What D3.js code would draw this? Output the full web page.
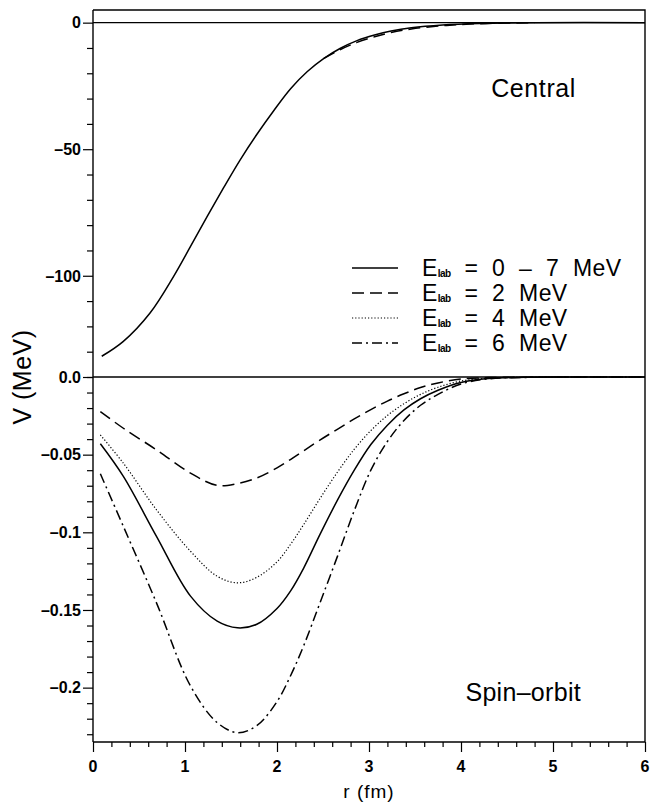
<!doctype html>
<html>
<head>
  <meta charset="utf-8">
  <title>Central and spin-orbit potentials</title>
  <script src="https://cdnjs.cloudflare.com/ajax/libs/d3/7.8.5/d3.min.js"></script>
  <style>
    body { margin: 0; background: #fff; }
    svg { font-family: 'Liberation Sans', Arial, sans-serif; }
    .tick-label { font-weight: bold; font-size: 16px; fill: #000; }
    .title { font-size: 25px; fill: #000; }
  </style>
</head>
<body>
<div id="chart"></div>
<script>
  // ---- data ----
  var rCentral = [0.095, 0.33, 0.62, 0.875, 1.06, 1.24, 1.42, 1.6, 1.78, 1.97, 2.15, 2.33, 2.51, 2.69, 2.87, 3.06, 3.24, 3.46, 3.8, 4.2, 4.8, 6.0];
  var vCentral = [-131.8, -125.9, -114.7, -100.3, -88.4, -76.6, -65.2, -54.2, -44.2, -34.5, -26.0, -19.3, -14.1, -10.1, -7.1, -4.9, -3.3, -2.0, -0.9, -0.3, 0, 0];
  // slight deviation of the 2 MeV central curve in the tail
  var rCentralDashed = [2.51, 2.69, 2.87, 3.06, 3.24, 3.46, 3.8, 4.2, 4.8];
  var vCentralDashed = [-14.1, -10.6, -7.8, -5.6, -3.9, -2.5, -1.2, -0.4, 0];

  var rSO = [0.08, 0.33, 0.69, 1.06, 1.35, 1.57, 1.78, 2.0, 2.15, 2.29, 2.47, 2.66, 2.84, 3.02, 3.2, 3.38, 3.56, 3.75, 4.0, 4.3, 4.7, 5.2, 6.0];
  var vSO_all = [-0.043, -0.064, -0.1026, -0.1411, -0.1572, -0.1615, -0.1592, -0.1490, -0.1375, -0.1230, -0.1010, -0.0790, -0.0600, -0.0435, -0.0310, -0.0212, -0.0140, -0.0085, -0.0035, -0.0010, -0.0002, 0, 0];
  var vSO_2 = [-0.0223, -0.033, -0.0469, -0.0619, -0.0698, -0.0686, -0.0650, -0.0585, -0.0530, -0.0475, -0.0405, -0.0335, -0.0270, -0.0210, -0.0155, -0.0108, -0.0068, -0.0038, -0.0013, -0.0004, -0.0001, 0, 0];
  var vSO_4 = [-0.0373, -0.0555, -0.0855, -0.1122, -0.1283, -0.1325, -0.1290, -0.1190, -0.1075, -0.0950, -0.0780, -0.0610, -0.0465, -0.0345, -0.0248, -0.0172, -0.0112, -0.0066, -0.0026, -0.0008, -0.0002, 0, 0];
  var vSO_6 = [-0.0623, -0.0962, -0.1454, -0.199, -0.2225, -0.229, -0.2245, -0.2090, -0.1920, -0.1730, -0.1450, -0.1150, -0.0860, -0.0600, -0.0415, -0.0280, -0.0182, -0.0112, -0.0045, -0.0012, -0.0003, 0, 0];

  var legendLabels = ["0 \u2013 7 MeV", "2 MeV", "4 MeV", "6 MeV"];
  var dashes = [null, "12,6", "1.2,2", "10,4,2,4"];

  var upperMajor = [0, -50, -100];
  var lowerMajor = [0, -0.05, -0.1, -0.15, -0.2];
  var lowerLabels = ["0.0", "\u20130.05", "\u20130.1", "\u20130.15", "\u20130.2"];

  // ---- layout ----
  var width = 656, height = 804;
  var margin = { top: 10, right: 11, bottom: 62, left: 93 };
  var split = 377;

  var svg = d3.select("#chart").append("svg").attr("width", width).attr("height", height);

  var x = d3.scaleLinear().domain([0, 6]).range([margin.left, width - margin.right]);
  var yUp = d3.scaleLinear().domain([-140, 5]).range([split, margin.top]);
  var yLo = d3.scaleLinear().domain([-0.235, 0]).range([height - margin.bottom, split]);

  // frame: top and right plain lines
  svg.append("path")
    .attr("d", `M${x(0)},${margin.top}H${x(6)}V${height - margin.bottom}`)
    .attr("fill", "none").attr("stroke", "#000").attr("stroke-width", 1.4);

  // zero lines
  [yUp(0), yLo(0)].forEach(function (yy) {
    svg.append("line").attr("x1", x(0)).attr("x2", x(6)).attr("y1", yy).attr("y2", yy)
      .attr("stroke", "#000").attr("stroke-width", 1.3);
  });

  // x axis
  var xAxis = svg.append("g").attr("transform", `translate(0,${height - margin.bottom})`);
  xAxis.call(d3.axisBottom(x).tickValues(d3.range(0, 6.01, 0.2)).tickSize(5).tickFormat(""))
    .call(g => g.select(".domain").attr("stroke-width", 1.4).attr("d", `M${x(0)},0H${x(6)}`));
  xAxis.selectAll(".tick line").attr("stroke-width", 1.2)
    .filter(d => Math.abs(d - Math.round(d)) < 1e-6).attr("y2", 10);
  xAxis.selectAll(".xl").data(d3.range(0, 7)).join("text")
    .attr("class", "tick-label").attr("x", d => x(d)).attr("y", 30)
    .attr("text-anchor", "middle").text(d => d);

  // left axis, upper panel
  var yAxisUp = svg.append("g").attr("transform", `translate(${margin.left},0)`);
  yAxisUp.call(d3.axisLeft(yUp).tickValues(d3.range(0, -141, -10)).tickSize(6).tickFormat(""))
    .call(g => g.select(".domain").attr("stroke-width", 1.4).attr("d", `M0,${margin.top}V${split}`));
  yAxisUp.selectAll(".tick line").attr("stroke-width", 1.2)
    .filter(d => d % 50 === 0).attr("x2", -10);
  yAxisUp.selectAll(".yl").data(upperMajor).join("text")
    .attr("class", "tick-label").attr("x", -12).attr("y", d => yUp(d)).attr("dy", "0.36em")
    .attr("text-anchor", "end").text(d => d === 0 ? "0" : "\u2013" + Math.abs(d));

  // left axis, lower panel
  var yAxisLo = svg.append("g").attr("transform", `translate(${margin.left},0)`);
  yAxisLo.call(d3.axisLeft(yLo).tickValues(d3.range(0, 24).map(i => -i / 100)).tickSize(6).tickFormat(""))
    .call(g => g.select(".domain").attr("stroke-width", 1.4).attr("d", `M0,${split}V${height - margin.bottom}`));
  yAxisLo.selectAll(".tick line").attr("stroke-width", 1.2)
    .filter((d, i) => i % 5 === 0).attr("x2", -10);
  yAxisLo.selectAll(".yl").data(lowerMajor).join("text")
    .attr("class", "tick-label").attr("x", -12).attr("y", d => yLo(d)).attr("dy", "0.36em")
    .attr("text-anchor", "end").text((d, i) => lowerLabels[i]);

  // curves
  function drawCurve(rs, vs, yScale, dash, sw) {
    var line = d3.line().x(d => x(d[0])).y(d => yScale(d[1])).curve(d3.curveCatmullRom);
    svg.append("path").datum(d3.zip(rs, vs))
      .attr("d", line).attr("fill", "none").attr("stroke", "#000")
      .attr("stroke-width", sw || 1.5)
      .attr("stroke-dasharray", dash);
  }
  drawCurve(rCentral, vCentral, yUp, null);
  drawCurve(rCentralDashed, vCentralDashed, yUp, dashes[1]);
  drawCurve(rSO, vSO_all, yLo, dashes[0]);
  drawCurve(rSO, vSO_2, yLo, dashes[1]);
  drawCurve(rSO, vSO_4, yLo, dashes[2], 1.2);
  drawCurve(rSO, vSO_6, yLo, dashes[3]);

  // panel labels
  svg.append("text").attr("class", "title").attr("x", 576).attr("y", 97)
    .attr("text-anchor", "end").attr("letter-spacing", 0.6).text("Central");
  svg.append("text").attr("class", "title").attr("x", 581).attr("y", 701)
    .attr("text-anchor", "end").attr("letter-spacing", 0.3).text("Spin\u2013orbit");

  // axis titles
  svg.append("text").attr("x", (x(0) + x(6)) / 2).attr("y", 798).attr("text-anchor", "middle")
    .attr("font-size", 19).attr("letter-spacing", 1).text("r (fm)");
  svg.append("text").attr("transform", `translate(31,377) rotate(-90)`).attr("text-anchor", "middle")
    .attr("font-size", 25).attr("letter-spacing", 0.5).text("V (MeV)");

  // legend
  var legend = svg.append("g").attr("transform", "translate(352,268)");
  var rows = legend.selectAll("g").data(legendLabels).join("g")
    .attr("transform", (d, i) => `translate(0,${i * 25})`);
  rows.append("line").attr("x1", 0).attr("x2", 46).attr("y1", 0).attr("y2", 0)
    .attr("stroke", "#000").attr("stroke-width", (d, i) => i === 2 ? 1.2 : 1.5)
    .attr("stroke-dasharray", (d, i) => dashes[i]);
  var lt = rows.append("text").attr("x", 70).attr("y", 8).attr("font-size", 23)
    .attr("word-spacing", 7).attr("letter-spacing", 0.4);
  lt.append("tspan").text("E");
  lt.append("tspan").attr("font-size", 10).attr("font-weight", "bold").attr("letter-spacing", -0.5)
    .attr("dy", 1).text("lab");
  lt.append("tspan").attr("dy", -1).text(d => " = " + d);
</script>
</body>
</html>
